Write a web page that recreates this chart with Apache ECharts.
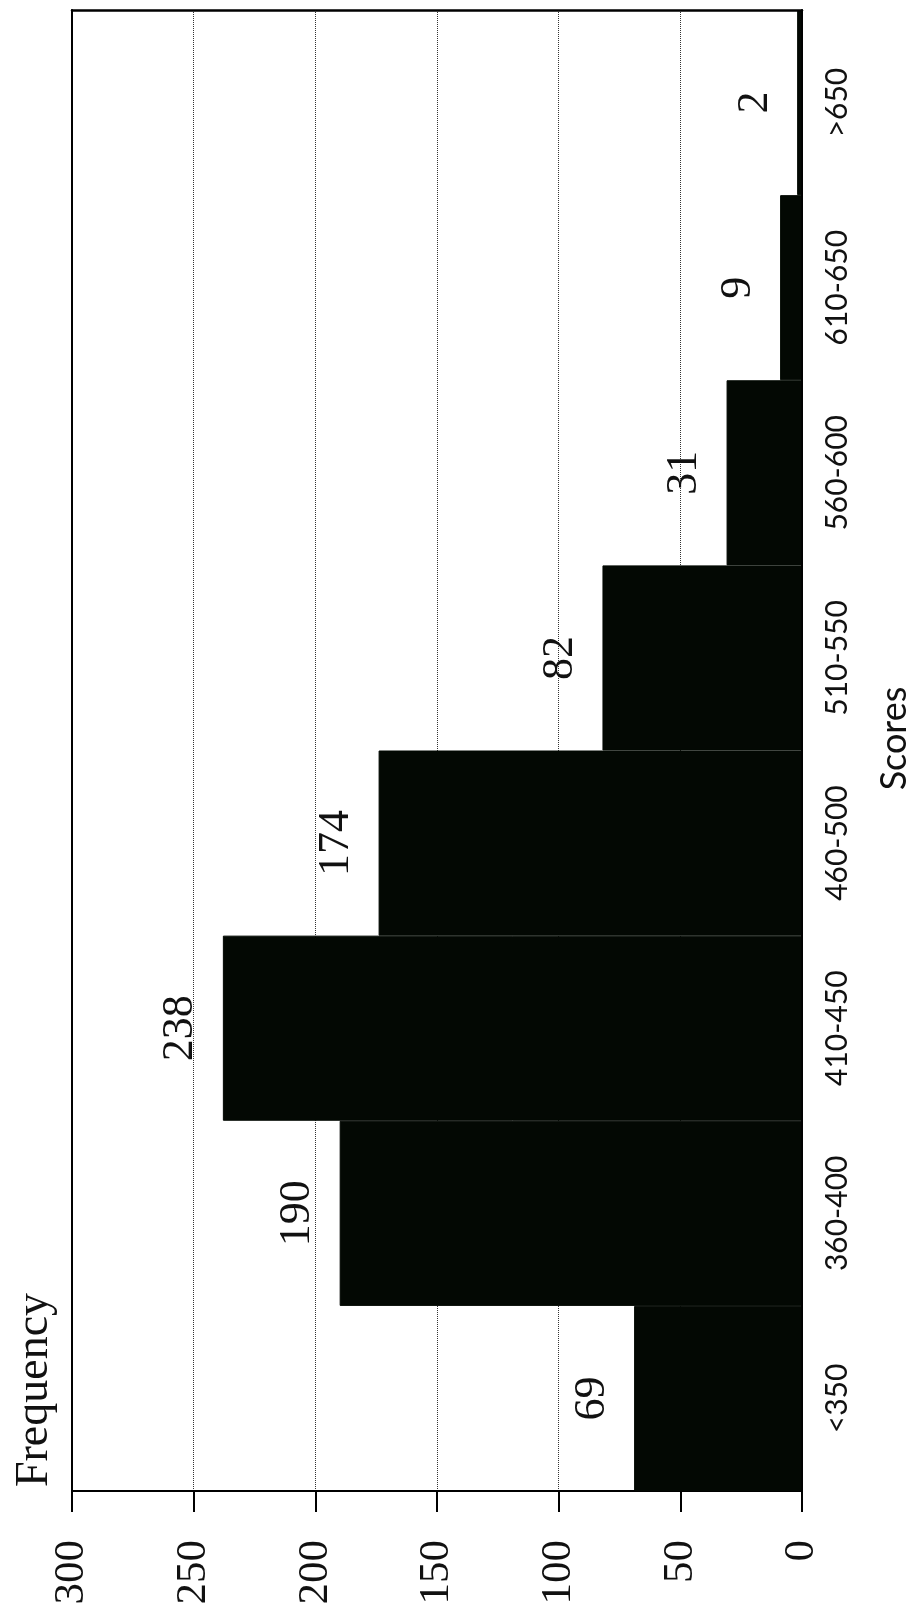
<!DOCTYPE html>
<html>
<head>
<meta charset="utf-8">
<script src="https://cdn.jsdelivr.net/npm/echarts@6/dist/echarts.min.js"></script>
<style>
html,body{margin:0;padding:0;background:#fff;}
#chart{width:920px;height:1620px;}
</style>
</head>
<body>
<div id="chart"></div>
<script>
const categories = ['<350', '360-400', '410-450', '460-500', '510-550', '560-600', '610-650', '>650'];
const frequency = [69, 190, 238, 174, 82, 31, 9, 2];
const valueMin = 0;
const valueMax = 300;
const valueInterval = 50;

const serif = 'Liberation Serif';
const sans = 'Lato';

const chart = echarts.init(document.getElementById('chart'), null, {renderer: 'canvas'});
chart.setOption({
  backgroundColor: '#ffffff',
  animation: false,
  grid: {left: 72, right: 118, top: 10, bottom: 129, containLabel: false},
  xAxis: [
    {
      type: 'value', position: 'bottom', inverse: true,
      min: valueMin, max: valueMax, interval: valueInterval,
      axisLine: {show: true, lineStyle: {color: '#000', width: 2}},
      axisTick: {show: true, inside: false, length: 21, lineStyle: {color: '#000', width: 2}},
      axisLabel: {rotate: 90, margin: 49, color: '#111', fontFamily: serif, fontSize: 43},
      splitLine: {show: true, lineStyle: {color: '#333', width: 1, type: 'dotted'}}
    },
    {
      type: 'value', position: 'top', inverse: true,
      min: valueMin, max: valueMax, interval: valueInterval, z: 10,
      axisLine: {show: true, lineStyle: {color: '#000', width: 2.5}},
      axisTick: {show: false}, axisLabel: {show: false}, splitLine: {show: false}
    }
  ],
  yAxis: [
    {
      type: 'category', position: 'right', data: categories, z: 10,
      axisLine: {show: true, onZero: false, lineStyle: {color: '#000', width: 2}},
      axisTick: {show: false},
      axisLabel: {rotate: 90, margin: 20, color: '#111', fontFamily: sans, fontSize: 30},
      name: 'Scores', nameLocation: 'middle', nameRotate: 90, nameGap: 74,
      nameTextStyle: {color: '#111', fontFamily: sans, fontSize: 36, padding: [0, 0, 0, 24]}
    },
    {
      type: 'category', position: 'left', data: categories, z: 10,
      axisLine: {show: true, onZero: false, lineStyle: {color: '#000', width: 2}},
      axisTick: {show: false}, axisLabel: {show: false}, splitLine: {show: false}
    }
  ],
  series: [{
    type: 'bar',
    xAxisIndex: 0, yAxisIndex: 0,
    data: frequency,
    barCategoryGap: '0%',
    itemStyle: {color: '#030803', borderColor: '#030803', borderWidth: 1},
    label: {
      show: true, position: 'left', distance: 42, rotate: 90,
      align: 'center', verticalAlign: 'middle',
      color: '#111', fontFamily: serif, fontSize: 44
    }
  }],
  graphic: [{
    type: 'text', x: 35, y: 1390, rotation: Math.PI / 2,
    style: {
      text: 'Frequency', font: '46px Liberation Serif', fill: '#111',
      align: 'center', verticalAlign: 'middle',
      textAlign: 'center', textVerticalAlign: 'middle'
    }
  }]
});
</script>
</body>
</html>
